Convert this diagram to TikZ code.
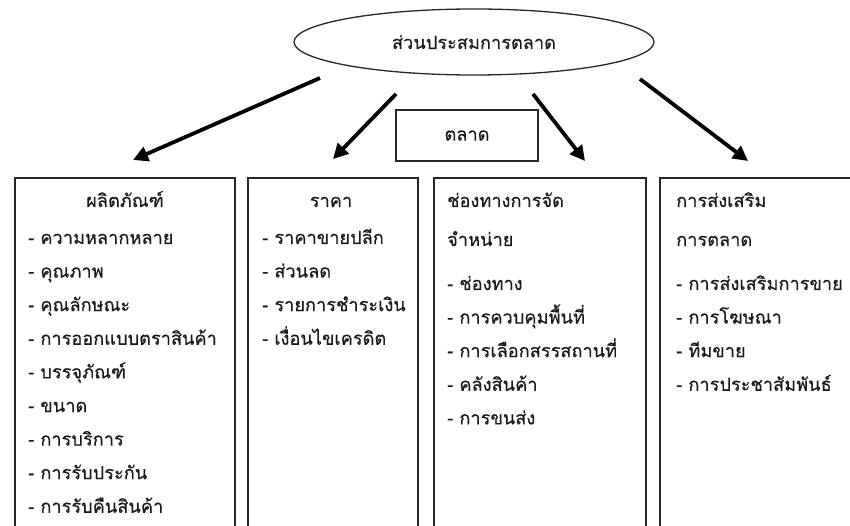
\documentclass[tikz,border=0pt]{standalone}
\usepackage{fontspec}
\newfontfamily\thaifont[Script=Thai,FakeBold=0.35]{Loma}
\usetikzlibrary{arrows.meta,shapes.geometric}
\begin{document}
\begin{tikzpicture}[x=1pt,y=-1pt,
  txt/.style={font=\thaifont\fontsize{18.2}{22}\selectfont, inner sep=0pt, text=black!90},
  boxline/.style={draw=black!85, line width=1.3pt},
  colbox/.style={boxline, rectangle, minimum height=382pt, inner sep=0pt},
  arr/.style={line width=3.8pt, -{Triangle[length=15pt,width=15pt]}},
  item/.style={txt, anchor=base west}]
\useasboundingbox (0,0) rectangle (850,526);
% top ellipse
\node[boxline, ellipse, minimum width=360pt, minimum height=66pt, txt] (mix) at (474,42) {ส่วนประสมการตลาด};
% market box
\node[boxline, rectangle, minimum width=142pt, minimum height=51pt, txt] (market) at (467,135.5) {ตลาด};
% column boxes (open at the bottom, cut by the page edge)
\node[colbox, minimum width=220pt] (b1) at (125,369) {};
\node[colbox, minimum width=170pt] (b2) at (333,369) {};
\node[colbox, minimum width=212pt] (b3) at (540,369) {};
\node[colbox, minimum width=240pt] (b4) at (780,369) {};
% arrows
\coordinate (s1) at (320,78);  \coordinate (e1) at (133,160);
\coordinate (s2) at (396,94);  \coordinate (e2) at (333,159);
\coordinate (s3) at (533,94);  \coordinate (e3) at (585,161);
\coordinate (s4) at (640,79);  \coordinate (e4) at (748,161);
\draw[arr] (s1) -- (e1);
\draw[arr] (s2) -- (e2);
\draw[arr] (s3) -- (e3);
\draw[arr] (s4) -- (e4);
% box 1
\node[txt, anchor=base] (h1) at (125,207) {ผลิตภัณฑ์};
\foreach \t [count=\i from 0] in {ความหลากหลาย,คุณภาพ,คุณลักษณะ,การออกแบบตราสินค้า,บรรจุภัณฑ์,ขนาด,การบริการ,การรับประกัน,การรับคืนสินค้า}
  \node[item] (p\i) at (28,244+33.6*\i) {- \t};
% box 2
\node[txt, anchor=base] (h2) at (331,207) {ราคา};
\foreach \t [count=\i from 0] in {ราคาขายปลีก,ส่วนลด,รายการชำระเงิน,เงื่อนไขเครดิต}
  \node[item] (r\i) at (262,244+33.6*\i) {- \t};
% box 3
\node[item] (h3a) at (447,207) {ช่องทางการจัด};
\node[item] (h3b) at (447,246) {จำหน่าย};
\foreach \t [count=\i from 0] in {ช่องทาง,การควบคุมพื้นที่,การเลือกสรรสถานที่,คลังสินค้า,การขนส่ง}
  \node[item] (c\i) at (447,290+33.6*\i) {- \t};
% box 4
\node[item] (h4a) at (676,207) {การส่งเสริม};
\node[item] (h4b) at (676,246) {การตลาด};
\foreach \t [count=\i from 0] in {การส่งเสริมการขาย,การโฆษณา,ทีมขาย,การประชาสัมพันธ์}
  \node[item] (m\i) at (676,290+33.6*\i) {- \t};
\end{tikzpicture}
\end{document}
